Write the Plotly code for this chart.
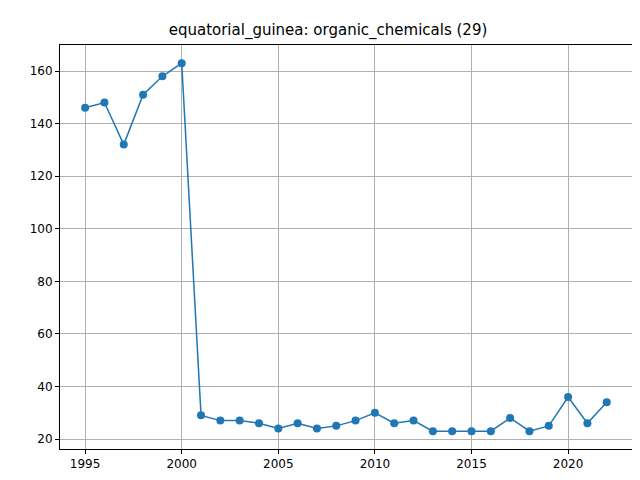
import plotly.graph_objects as go

years = list(range(1995, 2023))
values = [146, 148, 132, 151, 158, 163, 29, 27, 27, 26, 24, 26, 24, 25, 27,
          30, 26, 27, 23, 23, 23, 23, 28, 23, 25, 36, 26, 34]
x_ticks = [1995, 2000, 2005, 2010, 2015, 2020]
y_ticks = [20, 40, 60, 80, 100, 120, 140, 160]

fig = go.Figure()
fig.add_trace(go.Scatter(
    x=years, y=values, mode='lines+markers',
    line=dict(color='#1f77b4', width=1.5),
    marker=dict(color='#1f77b4', size=8)
))

axis_common = dict(
    showgrid=True, gridcolor='#b0b0b0', gridwidth=1,
    zeroline=False, showline=True, linecolor='black', mirror=True,
    ticks='outside', ticklen=4, tickcolor='black', automargin=False,
    tickfont=dict(family='DejaVu Sans', size=12, color='black')
)

fig.update_layout(
    width=640, height=480,
    paper_bgcolor='white', plot_bgcolor='white',
    showlegend=False,
    margin=dict(l=52, r=15, t=37, b=39, autoexpand=False),
    title=dict(text='equatorial_guinea: organic_chemicals (29)', x=0.5, xanchor='center',
               y=0.955, yanchor='middle', automargin=False,
               font=dict(family='DejaVu Sans', size=15, color='black')),
    xaxis=dict(range=[1993.7, 2023.36], tickvals=x_ticks, **axis_common),
    yaxis=dict(range=[16.2, 169.9], tickvals=y_ticks, **axis_common),
)

fig.write_html("out.html")
